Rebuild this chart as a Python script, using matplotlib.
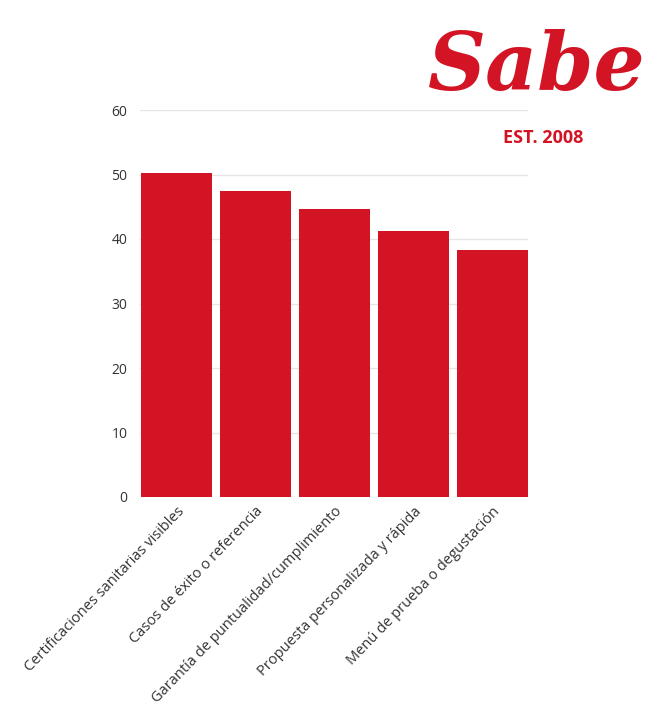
import matplotlib.pyplot as plt

# survey factors and their scores
factors = [
    "Certificaciones sanitarias visibles",
    "Casos de éxito o referencia",
    "Garantía de puntualidad/cumplimiento",
    "Propuesta personalizada y rápida",
    "Menú de prueba o degustación",
]
scores = [50.2, 47.5, 44.7, 41.2, 38.3]
yticks = [0, 10, 20, 30, 40, 50, 60]

brand_red = "#D31424"
plt.rcParams["font.family"] = ["Open Sans", "DejaVu Sans"]

fig = plt.figure(figsize=(6.48, 7.11), dpi=100)
ax = fig.add_axes([140 / 648, 1 - 497 / 711, 388 / 648, 387 / 711])

x = range(len(factors))
ax.bar(x, scores, width=0.9, color=brand_red, zorder=2)

ax.set_xlim(-0.465, len(factors) - 0.55)
ax.set_ylim(0, 60)
ax.set_yticks(yticks)
ax.set_xticks(list(x))
ax.set_xticklabels(factors, rotation=46, ha="right", rotation_mode="anchor",
                   fontsize=10.5, color="#333333")
ax.tick_params(axis="y", length=0, pad=9, labelsize=10, labelcolor="#333333")
ax.tick_params(axis="x", length=0, pad=5)
ax.grid(axis="y", color="#e6e6e6", linewidth=1, zorder=0)
for s in ax.spines.values():
    s.set_visible(False)

# brand mark in the top right corner
fig.text(0.828, 1 - 68 / 711, "Sabe", color=brand_red, fontsize=58,
         fontweight="bold", fontstyle="italic", family="DejaVu Serif",
         ha="center", va="center")
fig.text(0.838, 1 - 138 / 711, "EST. 2008", color=brand_red, fontsize=13,
         fontweight="bold", ha="center", va="center")

fig.savefig("out.png", dpi=100)
